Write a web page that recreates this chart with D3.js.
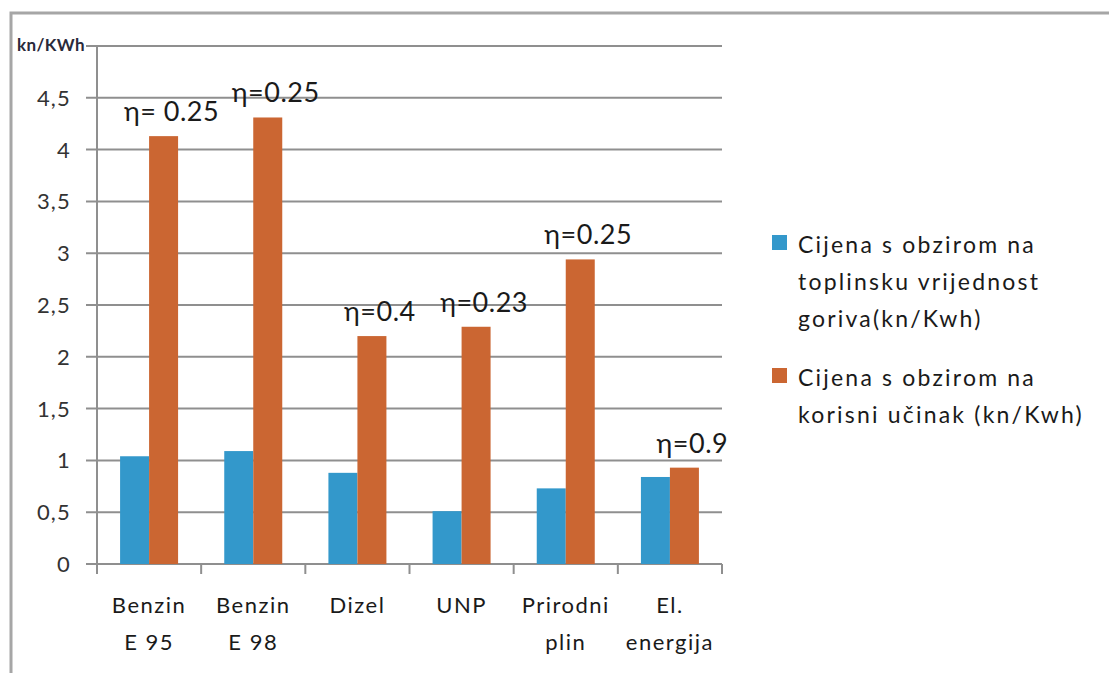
<!DOCTYPE html>
<html>
<head>
<meta charset="utf-8">
<script src="https://cdn.jsdelivr.net/npm/d3@7"></script>
<style>
  body { margin: 0; background: #fff; }
  svg { display: block; font-family: Lato, "Open Sans", sans-serif; }
</style>
</head>
<body>
<script>
// chart data
var categories = [["Benzin", "E 95"], ["Benzin", "E 98"], ["Dizel"], ["UNP"], ["Prirodni", "plin"], ["El.", "energija"]];
var heatValue = [1.04, 1.09, 0.88, 0.51, 0.73, 0.84];   // Cijena s obzirom na toplinsku vrijednost
var usefulValue = [4.13, 4.31, 2.20, 2.29, 2.94, 0.93]; // Cijena s obzirom na korisni učinak
var etaLabels = ["η= 0.25", "η=0.25", "η=0.4", "η=0.23", "η=0.25", "η=0.9"];
var yTicks = [0, 0.5, 1, 1.5, 2, 2.5, 3, 3.5, 4, 4.5, 5];
var seriesNames = [["Cijena s obzirom na", "toplinsku vrijednost", "goriva(kn/Kwh)"],
                   ["Cijena s obzirom na", "korisni učinak (kn/Kwh)"]];
var seriesColors = ["#3398cb", "#cb6632"];

var w = 1109, h = 673;
var svg = d3.select("body").append("svg").attr("width", w).attr("height", h);

// outer frame
svg.append("rect")
    .attr("x", 11).attr("y", 13)
    .attr("width", w + 20).attr("height", h + 20)
    .attr("fill", "none").attr("stroke", "#a6a6a6").attr("stroke-width", 3);

var plotLeft = 97, plotRight = 722, plotTop = 46, plotBottom = 564;

var x = d3.scaleBand()
    .domain(d3.range(categories.length))
    .range([plotLeft, plotRight]);

var y = d3.scaleLinear()
    .domain([0, 5])
    .range([plotBottom, plotTop]);

var barW = 29;

// gridlines
svg.append("g").selectAll("line")
    .data(yTicks)
    .enter().append("line")
    .attr("x1", plotLeft - 11).attr("x2", plotRight)
    .attr("y1", function(d){ return y(d); })
    .attr("y2", function(d){ return y(d); })
    .attr("stroke", "#8f8f8f").attr("stroke-width", 2);

// y axis line
svg.append("line")
    .attr("x1", plotLeft).attr("x2", plotLeft)
    .attr("y1", plotTop).attr("y2", plotBottom)
    .attr("stroke", "#8f8f8f").attr("stroke-width", 2);

// x ticks
svg.append("g").selectAll("line")
    .data(d3.range(categories.length + 1))
    .enter().append("line")
    .attr("x1", function(d){ return plotLeft + d * x.bandwidth(); })
    .attr("x2", function(d){ return plotLeft + d * x.bandwidth(); })
    .attr("y1", plotBottom).attr("y2", plotBottom + 10)
    .attr("stroke", "#8f8f8f").attr("stroke-width", 2);

// y tick labels (top one is replaced by the unit label)
svg.append("g").selectAll("text")
    .data(yTicks.slice(0, -1))
    .enter().append("text")
    .attr("x", 71)
    .attr("y", function(d){ return y(d); })
    .attr("dy", "0.36em")
    .attr("text-anchor", "end")
    .attr("font-size", 22)
    .attr("letter-spacing", 1.2)
    .attr("fill", "#333")
    .text(function(d){ return String(d).replace(".", ","); });

svg.append("text")
    .attr("x", 17).attr("y", 51)
    .attr("font-size", 17).attr("font-weight", "bold")
    .attr("letter-spacing", 0.4)
    .attr("fill", "#2a2a3a")
    .text("kn/KWh");

// bars
svg.append("g").selectAll("rect")
    .data(heatValue)
    .enter().append("rect")
    .attr("x", function(d, i){ return x(i) + x.bandwidth() / 2 - barW; })
    .attr("y", function(d){ return y(d); })
    .attr("width", barW)
    .attr("height", function(d){ return plotBottom - y(d); })
    .attr("fill", seriesColors[0]);

svg.append("g").selectAll("rect")
    .data(usefulValue)
    .enter().append("rect")
    .attr("x", function(d, i){ return x(i) + x.bandwidth() / 2; })
    .attr("y", function(d){ return y(d); })
    .attr("width", barW)
    .attr("height", function(d){ return plotBottom - y(d); })
    .attr("fill", seriesColors[1]);

// efficiency labels above the orange bars
svg.append("g").selectAll("text")
    .data(usefulValue)
    .enter().append("text")
    .attr("x", function(d, i){ return x(i) + x.bandwidth() / 2 + barW / 2 + 8; })
    .attr("y", function(d){ return y(d) - 15; })
    .attr("text-anchor", "middle")
    .attr("font-size", 27)
    .attr("letter-spacing", 0.5)
    .attr("fill", "#1a1a1a")
    .text(function(d, i){ return etaLabels[i]; });

// category labels
var catLabels = svg.append("g").selectAll("text")
    .data(categories)
    .enter().append("text")
    .attr("text-anchor", "middle")
    .attr("font-size", 22)
    .attr("letter-spacing", 1.5)
    .attr("fill", "#1a1a1a");

catLabels.selectAll("tspan")
    .data(function(d, i){ return d.map(function(t){ return {t: t, i: i}; }); })
    .enter().append("tspan")
    .attr("x", function(d){ return x(d.i) + x.bandwidth() / 2; })
    .attr("y", function(d, j){ return 613 + j * 37; })
    .text(function(d){ return d.t; });

// legend
var legendY = [235, 368];
var legend = svg.append("g").selectAll("g")
    .data(seriesNames)
    .enter().append("g")
    .attr("transform", function(d, i){ return "translate(772," + legendY[i] + ")"; });

legend.append("rect")
    .attr("width", 15).attr("height", 15)
    .attr("fill", function(d, i){ return seriesColors[i]; });

legend.append("text")
    .attr("font-size", 23)
    .attr("fill", "#1a1a1a")
    .attr("letter-spacing", 2.2)
    .selectAll("tspan")
    .data(function(d){ return d; })
    .enter().append("tspan")
    .attr("x", 26)
    .attr("y", function(d, j){ return 18 + j * 37; })
    .text(function(d){ return d; });
</script>
</body>
</html>
